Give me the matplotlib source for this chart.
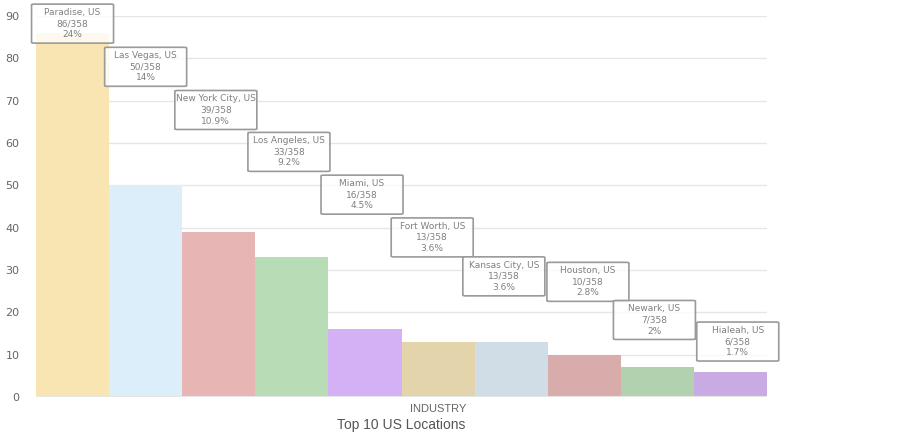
import matplotlib
matplotlib.use("Agg")
import matplotlib.pyplot as plt
from matplotlib.patches import FancyBboxPatch

cities = ["Paradise, US", "Las Vegas, US", "New York City, US", "Los Angeles, US",
          "Miami, US", "Fort Worth, US", "Kansas City, US", "Houston, US",
          "Newark, US", "Hialeah, US"]
counts = [86, 50, 39, 33, 16, 13, 13, 10, 7, 6]
total = 358
percents = ["24%", "14%", "10.9%", "9.2%", "4.5%", "3.6%", "3.6%", "2.8%", "2%", "1.7%"]
colors = ["#F9E5B1", "#DDEEFB", "#E8B5B5", "#B8DCB5", "#D4B1F4",
          "#E4D4AB", "#D0DDE6", "#D8ACAB", "#B2D1AE", "#C8ABE2"]
yticks = [0, 10, 20, 30, 40, 50, 60, 70, 80, 90]

# label box centres (x in bar index units, y in data units)
box_x = [0.0, 1.0, 1.96, 2.96, 3.96, 4.92, 5.9, 7.05, 7.96, 9.1]
box_y = [88.2, 78.0, 67.8, 57.9, 47.8, 37.7, 28.5, 27.2, 18.2, 13.1]

fig = plt.figure(figsize=(9.15, 4.37), dpi=100)
ax = fig.add_axes([36/915, 1-397/437, 731/915, 381/437])

x = list(range(len(counts)))
ax.bar(x, counts, width=1.0, color=colors, zorder=2)
ax.set_xlim(-0.5, len(counts)-0.5)
ax.set_ylim(0, 90)
ax.set_yticks(yticks)
ax.set_xticks([])
for s in ax.spines.values():
    s.set_visible(False)
ax.grid(axis="y", color="#e6e6e6", linewidth=1, zorder=1)
ax.axhline(0, color="#e6e6e6", linewidth=1.5, zorder=3)
ax.tick_params(axis="y", length=0, pad=12, labelsize=8, labelcolor="#666666")
for lbl in ax.get_yticklabels():
    lbl.set_fontfamily("DejaVu Sans")

bw = 82/73.1
bh = 39/(381/90)
for i in range(len(counts)):
    cx, cy = box_x[i], box_y[i]
    p = FancyBboxPatch((cx-bw/2, cy-bh/2), bw, bh,
                       boxstyle="round,pad=0,rounding_size=0.04",
                       facecolor=(1, 1, 1, 0.8), edgecolor="#9a9a9a", linewidth=1.2,
                       zorder=5, clip_on=False, mutation_aspect=4)
    ax.add_patch(p)
    ax.text(cx, cy, f"{cities[i]}\n{counts[i]}/{total}\n{percents[i]}",
            ha="center", va="center", fontsize=6.5, color="#808080",
            linespacing=1.3, zorder=6, family="DejaVu Sans")

fig.text(438/915, 1-409/437, "INDUSTRY", ha="center", va="center",
         fontsize=8, color="#666666", family="Liberation Sans")
fig.text(401/915, 1-425/437, "Top 10 US Locations", ha="center", va="center",
         fontsize=10, color="#555555", family="Liberation Sans")

fig.savefig("out.png", dpi=100)
